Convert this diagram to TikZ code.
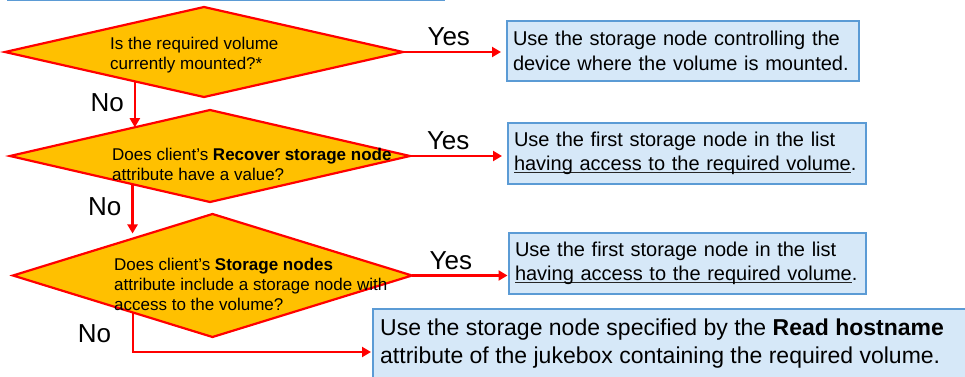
\documentclass[tikz,border=0pt]{standalone}
\usepackage{fontspec}
\setmainfont{Liberation Sans}
\usetikzlibrary{shapes.geometric,arrows.meta}
\definecolor{decfill}{HTML}{FFC000}
\definecolor{decline}{HTML}{FF0000}
\definecolor{boxfill}{HTML}{D6E8F8}
\definecolor{boxline}{HTML}{5B9BD5}
% underline set close to the baseline
\newcommand\ulpart[1]{\leavevmode\setbox0\hbox{#1}%
  \rlap{\color[HTML]{262626}\rule[-2.4pt]{\wd0}{1.1pt}}\box0}
\begin{document}
\begin{tikzpicture}[x=1pt,y=-1pt,
  decision/.style={diamond, draw=decline, fill=decfill, line width=2.2pt,
    inner sep=0pt, outer sep=0pt},
  answer/.style={rectangle, draw=boxline, fill=boxfill, line width=1.5pt,
    inner xsep=6pt, inner ysep=0pt, outer sep=0pt, align=left,
    font=\fontsize{20}{24.5}\selectfont},
  qtext/.style={inner sep=0pt, align=left, anchor=west,
    font=\fontsize{17}{20.5}\selectfont},
  flow/.style={draw=decline, line width=2.2pt,
    -{Triangle[length=9pt,width=10pt]}},
  yeslbl/.style={font=\fontsize{26}{30}\selectfont, inner sep=0pt, above=5pt},
  nolbl/.style={font=\fontsize{26}{30}\selectfont, inner sep=0pt}
]
\useasboundingbox (0,0) rectangle (965,376);
\clip (0,0) rectangle (965,376);

% edge of the panel above
\draw[boxline, line width=2.5pt] (7,0) -- (445,0);

% decisions
\node[decision, minimum width=398pt, minimum height=90pt]  (d1) at (204,52) {};
\node[decision, minimum width=400pt, minimum height=92pt]  (d2) at (210,156) {};
\node[decision, minimum width=399pt, minimum height=123pt] (d3) at (212.5,275.5) {};

% outcomes
\node[answer, minimum width=352pt, minimum height=60pt, text width=340pt] (b1) at (683,51)
  {Use the storage node controlling the\\device where the volume is mounted.};
\node[answer, minimum width=358pt, minimum height=61pt, text width=346pt] (b2) at (687,153.5)
  {Use the first storage node in the list\\\ulpart{having access to the required volume}.};
\node[answer, minimum width=357pt, minimum height=61pt, text width=345pt] (b3) at (687.5,263.5)
  {Use the first storage node in the list\\\ulpart{having access to the required volume}.};
\node[answer, minimum width=660pt, minimum height=86pt] (b4) at (703,352) {};
\node[inner sep=0pt, anchor=west, align=left, font=\fontsize{23}{28}\selectfont] (t4) at (380,344)
  {Use the storage node specified by the \textbf{Read hostname}\\attribute of the jukebox containing the required volume.};

% questions
\node[qtext] (q1) at (110,55) {Is the required volume\\currently mounted?*};
\node[qtext, font=\fontsize{17}{20}\selectfont] (q2) at (112,164)
  {Does client’s \textbf{Recover storage node}\\attribute have a value?};
\node[qtext, font=\fontsize{17}{20.3}\selectfont] (q3) at (114,284.3)
  {Does client’s \textbf{Storage nodes}\\attribute include a storage node with\\access to the volume?};

% yes branches
\draw[flow, shorten >=6pt] (d1.east) -- node[yeslbl, pos=0.44] {Yes} (d1.east -| b1.west);
\draw[flow, shorten >=6pt] (d2.east) -- node[yeslbl, pos=0.39] {Yes} (d2.east -| b2.west);
\draw[flow, shorten >=1.5pt] (d3.east) -- node[yeslbl, pos=0.4] {Yes} (d3.east -| b3.west);

% no branches
\draw[flow] (d1.203) -- node[nolbl, pos=0.46, left=10pt] {No} (d1.203 |- d2.159);
\draw[flow, shorten >=5pt] (d2.200) -- node[nolbl, pos=0.42, left=10pt] {No} (d2.200 |- d3.155);
\draw[flow, shorten >=2pt] (d3.205) |- node[nolbl, pos=0.27, left=21pt] {No} (b4.west);
\end{tikzpicture}
\end{document}
